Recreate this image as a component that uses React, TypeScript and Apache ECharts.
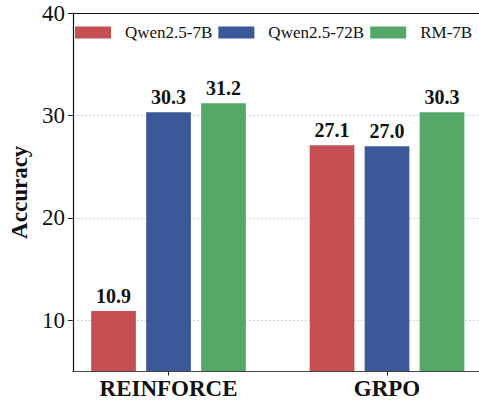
import React, { useEffect, useRef } from "react";
import * as echarts from "echarts";

const categories = ["REINFORCE", "GRPO"];
const seriesNames = ["Qwen2.5-7B", "Qwen2.5-72B", "RM-7B"];
const qwen7b = [10.9, 27.1];
const qwen72b = [30.3, 27.0];
const rm7b = [31.2, 30.3];
const yTicks = [10, 20, 30, 40];
const colors = ["#c44e52", "#3b5998", "#55a868"];

const FONT = "'Liberation Serif', 'Times New Roman', serif";

export default function App() {
  const ref = useRef<HTMLDivElement>(null);
  useEffect(() => {
    if (!ref.current) return;
    const chart = echarts.init(ref.current, null, { renderer: "svg" });
    const valuesList = [qwen7b, qwen72b, rm7b];
    chart.setOption({
      animation: false,
      textStyle: { fontFamily: FONT },
      grid: { left: 70, right: 0, top: 13, bottom: 34.5, containLabel: false },
      legend: {
        left: 75,
        top: 24,
        width: 600,
        padding: 0,
        itemWidth: 36,
        itemHeight: 12,
        itemGap: 6,
        icon: "rect",
        data: seriesNames,
        textStyle: { fontFamily: FONT, fontSize: 17, color: "#111", padding: [0, 0, 0, 9] },
      },
      xAxis: [
        {
          type: "value",
          min: -0.4377,
          max: 1.421,
          z: 5,
          axisLine: { show: true, onZero: false, lineStyle: { color: "#444", width: 1.2 } },
          axisTick: { show: true, customValues: [0, 1], length: 4, lineStyle: { color: "#222" } },
          axisLabel: {
            customValues: [0, 1],
            formatter: (v: number) => categories[Math.round(v)] ?? "",
            fontFamily: FONT,
            fontSize: 23,
            fontWeight: "bold",
            color: "#111",
            margin: 5,
          },
          splitLine: { show: false },
        },
        {
          type: "value",
          position: "top",
          min: -0.4377,
          max: 1.421,
          axisLine: { show: true, onZero: false, lineStyle: { color: "#111", width: 1.2 } },
          axisTick: { show: false },
          axisLabel: { show: false },
          splitLine: { show: false },
        },
      ],
      yAxis: {
        type: "value",
        min: 5,
        max: 40,
        name: "Accuracy",
        nameLocation: "middle",
        nameGap: 38,
        nameTextStyle: { fontFamily: FONT, fontSize: 23, fontWeight: "bold", color: "#111" },
        axisLine: { show: true, onZero: false, lineStyle: { color: "#111", width: 1.2 } },
        axisTick: { show: true, customValues: yTicks, length: 5, lineStyle: { color: "#222" } },
        axisLabel: {
          customValues: yTicks,
          fontFamily: FONT,
          fontSize: 23,
          color: "#111",
          margin: 8,
        },
        splitLine: {
          show: true,
          lineStyle: { color: "#cccccc", type: [2, 2], width: 0.8 },
        },
      },
      series: seriesNames.map((name, i) => ({
        name,
        type: "bar",
        xAxisIndex: 0,
        barWidth: 44.7,
        barGap: "23%",
        itemStyle: { color: colors[i] },
        label: {
          show: true,
          position: "top",
          distance: 5,
          fontFamily: FONT,
          fontSize: 20,
          fontWeight: "bold",
          color: "#111",
          formatter: (p: any) => Number(p.value[1]).toFixed(1),
        },
        data: valuesList[i].map((v, j) => [j, v]),
      })),
    });
    return () => chart.dispose();
  }, []);
  return <div ref={ref} style={{ width: 479, height: 406, position: "absolute", left: 0, top: 0 }} />;
}
